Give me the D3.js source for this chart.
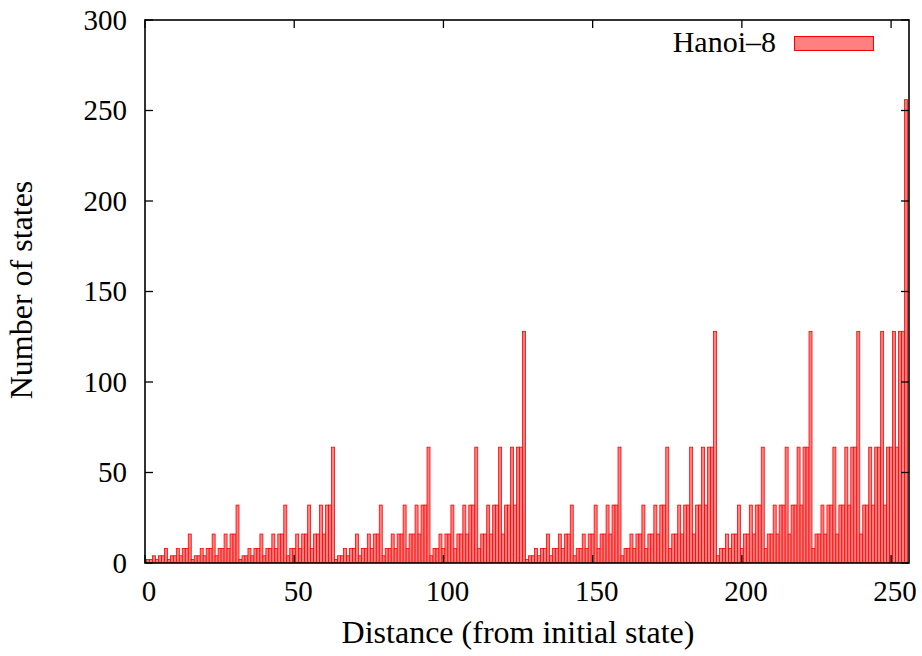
<!DOCTYPE html>
<html>
<head>
<meta charset="utf-8">
<script src="https://cdn.jsdelivr.net/npm/d3@7"></script>
<style>
  body { margin: 0; background: #fff; }
  text { font-family: "Liberation Serif", "Times New Roman", serif; fill: #000; }
</style>
</head>
<body>
<div id="chart"></div>
<script>
// states at each distance from the initial state, distance = index (0..255)
var counts = [
  1, 2, 2, 4, 2, 4, 4, 8, 2, 4, 4, 8, 4, 8, 8, 16,
  2, 4, 4, 8, 4, 8, 8, 16, 4, 8, 8, 16, 8, 16, 16, 32,
  2, 4, 4, 8, 4, 8, 8, 16, 4, 8, 8, 16, 8, 16, 16, 32,
  4, 8, 8, 16, 8, 16, 16, 32, 8, 16, 16, 32, 16, 32, 32, 64,
  2, 4, 4, 8, 4, 8, 8, 16, 4, 8, 8, 16, 8, 16, 16, 32,
  4, 8, 8, 16, 8, 16, 16, 32, 8, 16, 16, 32, 16, 32, 32, 64,
  4, 8, 8, 16, 8, 16, 16, 32, 8, 16, 16, 32, 16, 32, 32, 64,
  8, 16, 16, 32, 16, 32, 32, 64, 16, 32, 32, 64, 32, 64, 64, 128,
  2, 4, 4, 8, 4, 8, 8, 16, 4, 8, 8, 16, 8, 16, 16, 32,
  4, 8, 8, 16, 8, 16, 16, 32, 8, 16, 16, 32, 16, 32, 32, 64,
  4, 8, 8, 16, 8, 16, 16, 32, 8, 16, 16, 32, 16, 32, 32, 64,
  8, 16, 16, 32, 16, 32, 32, 64, 16, 32, 32, 64, 32, 64, 64, 128,
  4, 8, 8, 16, 8, 16, 16, 32, 8, 16, 16, 32, 16, 32, 32, 64,
  8, 16, 16, 32, 16, 32, 32, 64, 16, 32, 32, 64, 32, 64, 64, 128,
  8, 16, 16, 32, 16, 32, 32, 64, 16, 32, 32, 64, 32, 64, 64, 128,
  16, 32, 32, 64, 32, 64, 64, 128, 32, 64, 64, 128, 64, 128, 128, 256
];
var seriesName = "Hanoi\u20138";
var xTicks = [0, 50, 100, 150, 200, 250];
var yTicks = [0, 50, 100, 150, 200, 250, 300];
var xTitle = "Distance (from initial state)";
var yTitle = "Number of states";

var svgWidth = 922;
var svgHeight = 656;
var margin = { top: 20, right: 13, bottom: 93, left: 145 };
var width = svgWidth - margin.left - margin.right;
var height = svgHeight - margin.top - margin.bottom;

var svg = d3.select("#chart").append("svg")
  .attr("width", svgWidth)
  .attr("height", svgHeight);

var chartGroup = svg.append("g")
  .attr("transform", `translate(${margin.left}, ${margin.top})`);

var x = d3.scaleLinear().domain([0, 256]).range([0, width]);
var y = d3.scaleLinear().domain([0, 300]).range([height, 0]);

svg.append("defs").append("clipPath").attr("id", "plotclip")
  .append("rect").attr("width", width).attr("height", height);

// bars
chartGroup.append("g")
  .attr("clip-path", "url(#plotclip)")
  .selectAll("rect")
  .data(counts)
  .enter()
  .append("rect")
  .attr("x", (d, i) => x(i - 0.5))
  .attr("y", d => y(d))
  .attr("width", (d, i) => x(i + 0.5) - x(i - 0.5))
  .attr("height", d => y(0) - y(d))
  .attr("fill", "#ff8080")
  .attr("stroke", "#ff0000")
  .attr("stroke-width", 0.8);

// ticks on all four sides, pointing inwards
var tickLen = 8;
var tickStyle = g => g.attr("stroke", "#000").attr("stroke-width", 1.3);

chartGroup.append("g").selectAll("line").data(xTicks).enter().append("line")
  .attr("x1", d => x(d)).attr("x2", d => x(d))
  .attr("y1", height).attr("y2", height - tickLen).call(tickStyle);
chartGroup.append("g").selectAll("line").data(xTicks).enter().append("line")
  .attr("x1", d => x(d)).attr("x2", d => x(d))
  .attr("y1", 0).attr("y2", tickLen).call(tickStyle);
chartGroup.append("g").selectAll("line").data(yTicks).enter().append("line")
  .attr("x1", 0).attr("x2", tickLen)
  .attr("y1", d => y(d)).attr("y2", d => y(d)).call(tickStyle);
chartGroup.append("g").selectAll("line").data(yTicks).enter().append("line")
  .attr("x1", width).attr("x2", width - tickLen)
  .attr("y1", d => y(d)).attr("y2", d => y(d)).call(tickStyle);

// frame
chartGroup.append("rect")
  .attr("width", width).attr("height", height)
  .attr("fill", "none").attr("stroke", "#000").attr("stroke-width", 1.6);

// tick labels
chartGroup.append("g").selectAll("text").data(xTicks).enter().append("text")
  .attr("x", d => x(d) + 4)
  .attr("y", height + 38)
  .attr("text-anchor", "middle")
  .style("font-size", "29px")
  .text(d => d);

chartGroup.append("g").selectAll("text").data(yTicks).enter().append("text")
  .attr("x", -18)
  .attr("y", d => y(d))
  .attr("dy", "0.34em")
  .attr("text-anchor", "end")
  .style("font-size", "29px")
  .text(d => d);

// axis titles
svg.append("text")
  .attr("x", margin.left + width / 2 - 9)
  .attr("y", 643)
  .attr("text-anchor", "middle")
  .style("font-size", "32px")
  .text(xTitle);

svg.append("text")
  .attr("transform", "translate(32, 290) rotate(-90)")
  .attr("text-anchor", "middle")
  .style("font-size", "32px")
  .text(yTitle);

// legend
var legend = svg.append("g");
legend.append("text")
  .attr("x", 776)
  .attr("y", 52)
  .attr("text-anchor", "end")
  .style("font-size", "30px")
  .text(seriesName);
legend.append("rect")
  .attr("x", 794.5).attr("y", 36.5)
  .attr("width", 79).attr("height", 14)
  .attr("fill", "#ff8080")
  .attr("stroke", "#ff0000")
  .attr("stroke-width", 1);
</script>
</body>
</html>
